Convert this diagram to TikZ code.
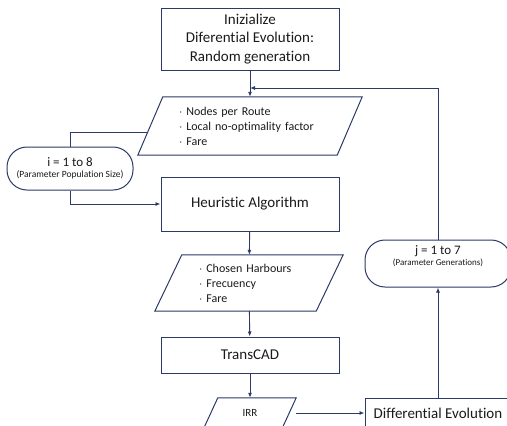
\documentclass[tikz,border=0pt]{standalone}
\usepackage{fontspec}
\setmainfont{Carlito}[Ligatures=NoCommon]
\usetikzlibrary{
  arrows.meta,
  positioning,
  calc,
  shapes.geometric,
}
\definecolor{navy}{HTML}{2B3A67}
\definecolor{ink}{HTML}{1A1A1A}
\tikzset{
  >={Latex[length=5pt,width=4pt]},
  every node/.append style={text=ink},
  flow/.style={draw=navy, line width=0.9pt},
  arrow/.style={flow, ->},
  process/.style={
    draw=navy,
    line width=1pt,
    minimum width=178pt,
    align=center,
    inner sep=2pt,
    font=\fontsize{15}{18.5}\selectfont,
  },
  data/.style={
    rectangle,
    align=left,
    inner sep=2pt,
    font=\fontsize{12}{15}\selectfont,
  },
  loopbox/.style={
    rectangle,
    rounded corners=20pt,
    draw=navy,
    line width=1pt,
    align=center,
    inner sep=2pt,
  },
}

\begin{document}
\begin{tikzpicture}[x=1pt,y=-1pt]
  \useasboundingbox (0,0) rectangle (507,426);

  % main column
  \node[process, minimum height=62pt] (init) at (250,39) {Inizialize\\Diferential Evolution:\\Random generation};
  \node[data, text width=142pt, minimum width=199pt, minimum height=58pt] (params) at (250,126) {$\cdot$ Nodes per Route\\$\cdot$ Local no-optimality factor\\$\cdot$ Fare};
  \node[process, minimum height=54pt] (heur) at (250,204) {Heuristic Algorithm};
  \node[data, text width=100pt, minimum width=161pt, minimum height=56pt] (outputs) at (249,283) {$\cdot$ Chosen Harbours\\$\cdot$ Frecuency\\$\cdot$ Fare};
  \node[process, minimum height=36pt] (transcad) at (250,355) {TransCAD};
  \node[data, minimum width=78pt, minimum height=30pt, align=center, font=\fontsize{11}{13}\selectfont] (irr) at (250,413) {IRR};

  % parallelogram outlines
  \foreach \n/\s in {params/12.5, outputs/13.5, irr/7} {
    \draw[flow, line width=1pt] ($(\n.south west)+(-\s,0)$) -- ($(\n.north west)+(\s,0)$)
      -- ($(\n.north east)+(\s,0)$) -- ($(\n.south east)+(-\s,0)$) -- cycle;
  }

  % loops
  \node[loopbox, minimum width=126pt, minimum height=43pt] (looppop) at (70,168.5)
    {{\fontsize{13}{13}\selectfont i = 1 to 8}\\[-1pt]{\fontsize{9.5}{11}\selectfont (Parameter Population Size)}};
  \node[loopbox, minimum width=146pt, minimum height=47pt] (loopgen) at (438,263.5)
    {{\fontsize{13}{13}\selectfont j = 1 to 7}\\[-1pt]{\fontsize{9}{11}\selectfont (Parameter Generations)}\\[3pt]};
  \node[process, minimum width=146pt, minimum height=30pt] (devo) at (438,413) {Differential Evolution};
  \coordinate (join) at (250,88);
  \coordinate (tap) at ($(params.west)+(-2.6,6)$);

  % connectors
  \draw[arrow] (init) -- (params);
  \draw[flow] (tap) -| (looppop.north);
  \draw[arrow] (looppop.south) |- (heur.west);
  \draw[arrow] (heur) -- (outputs);
  \draw[arrow] (outputs) -- (transcad);
  \draw[arrow] (transcad) -- (irr);
  \draw[arrow] ($(irr.east)+(7,0)$) -- (devo);
  \draw[arrow] (devo) -- (loopgen);
  \draw[arrow] (loopgen.north) |- (join);
\end{tikzpicture}
\end{document}
